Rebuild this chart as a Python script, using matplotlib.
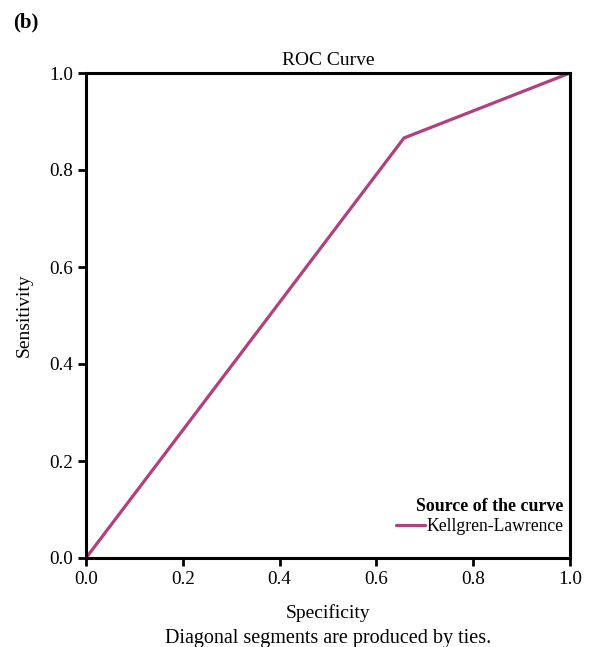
import matplotlib
matplotlib.use("Agg")
import matplotlib.pyplot as plt

plt.rcParams['font.family'] = ['Liberation Serif', 'DejaVu Serif']

specificity = [0.0, 0.657, 1.0]
sensitivity = [0.0, 0.866, 1.0]
ticks = [0.0, 0.2, 0.4, 0.6, 0.8, 1.0]
tick_labels = ["0.0", "0.2", "0.4", "0.6", "0.8", "1.0"]
series_name = "Kellgren-Lawrence"

fig = plt.figure(figsize=(5.92, 6.47), dpi=100)
ax = fig.add_axes([86/592, 1-558/647, 484/592, 485/647])

ax.plot(specificity, sensitivity, color='#b0407e', lw=2.3, label=series_name,
        solid_capstyle='round')
ax.set_xlim(0, 1)
ax.set_ylim(0, 1)
ax.set_xticks(ticks)
ax.set_xticklabels(tick_labels)
ax.set_yticks(ticks)
ax.set_yticklabels(tick_labels)
for s in ax.spines.values():
    s.set_linewidth(2.2)
ax.tick_params(direction='out', length=6, width=2, labelsize=13.8, pad=3)

ax.set_title("ROC Curve", fontsize=14, pad=6)
ax.set_xlabel("Specificity", fontsize=14, labelpad=12)
ax.set_ylabel("Sensitivity", fontsize=14, labelpad=12)

leg = ax.legend(loc='lower right', title="Source of the curve", frameon=False,
                fontsize=12.7, title_fontsize=12.9, handlelength=1.6,
                handletextpad=0.1, borderaxespad=0.3, labelspacing=0.15,
                bbox_to_anchor=(1.012, 0.022), alignment='right')
leg.get_title().set_fontweight('bold')

fig.text(328/592, 1-639/647, "Diagonal segments are produced by ties.",
         ha='center', va='center', fontsize=14.5)
fig.text(13/592, 1-22/647, "(b)", ha='left', va='center', fontsize=15,
         fontweight='bold')

fig.savefig("out.png", dpi=100)
